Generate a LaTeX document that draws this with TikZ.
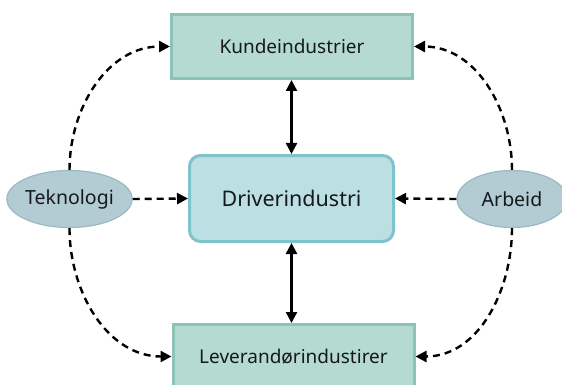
\documentclass[tikz,border=0pt]{standalone}
\usepackage{fontspec}
\setmainfont{Noto Sans}
\usetikzlibrary{arrows.meta,shapes.geometric}
\definecolor{boxfill}{HTML}{B5DAD2}
\definecolor{boxline}{HTML}{8DC2B6}
\definecolor{drvfill}{HTML}{BCDFE4}
\definecolor{drvline}{HTML}{7FC3CC}
\definecolor{elfill}{HTML}{B3CBD3}
\definecolor{elline}{HTML}{9BB9C3}
\definecolor{txt}{HTML}{15191B}
\tikzset{
  industry/.style={draw=boxline, fill=boxfill, line width=3pt, minimum width=241pt, minimum height=64pt, inner sep=0pt, text=txt, font=\fontsize{19}{22}\selectfont},
  driverbox/.style={draw=drvline, fill=drvfill, line width=3pt, rounded corners=11pt, minimum width=204pt, minimum height=86pt, inner sep=0pt, text=txt, font=\fontsize{21.5}{25}\selectfont},
  factor/.style={ellipse, draw=elline, fill=elfill, line width=1.2pt, minimum width=114pt, minimum height=57pt, inner sep=0pt, text=txt, font=\fontsize{19.5}{22}\selectfont},
  link/.style={line width=2.4pt, -{Triangle[length=11pt,width=11pt]}},
  duallink/.style={line width=2.4pt, {Triangle[length=11pt,width=11pt]}-{Triangle[length=11pt,width=11pt]}},
  influence/.style={link, dash pattern=on 7pt off 5pt},
}
\begin{document}
\begin{tikzpicture}[x=1pt,y=-1pt]
\useasboundingbox (0,0) rectangle (562,385);
\begin{scope}
\clip (0,0) rectangle (562,385);
\node[industry] (kunde) at (292,46.5) {Kundeindustrier};
\node[driverbox] (driver) at (291.5,198.5) {Driverindustri};
\node[industry] (lever) at (293.5,356.5) {Leverandørindustirer};
\node[factor] (tek) at (69.5,199) {Teknologi};
\node[factor, minimum width=110pt] (arb) at (512,199) {Arbeid};

\draw[duallink] (kunde.south -| driver.north) -- (driver.north);
\draw[duallink] (driver.south) -- (driver.south |- lever.north);

\draw[influence] (tek.east) -- (driver.west);
\draw[influence] (arb.west) -- (driver.east);

\draw[influence] (tek.north) to[out=90,in=180] (kunde.west);
\draw[influence] (tek.south) to[out=-90,in=180] (lever.west);
\draw[influence] (arb.north) to[out=90,in=0] (kunde.east);
\draw[influence] (arb.south) to[out=-90,in=0] (lever.east);
\end{scope}
\end{tikzpicture}
\end{document}
